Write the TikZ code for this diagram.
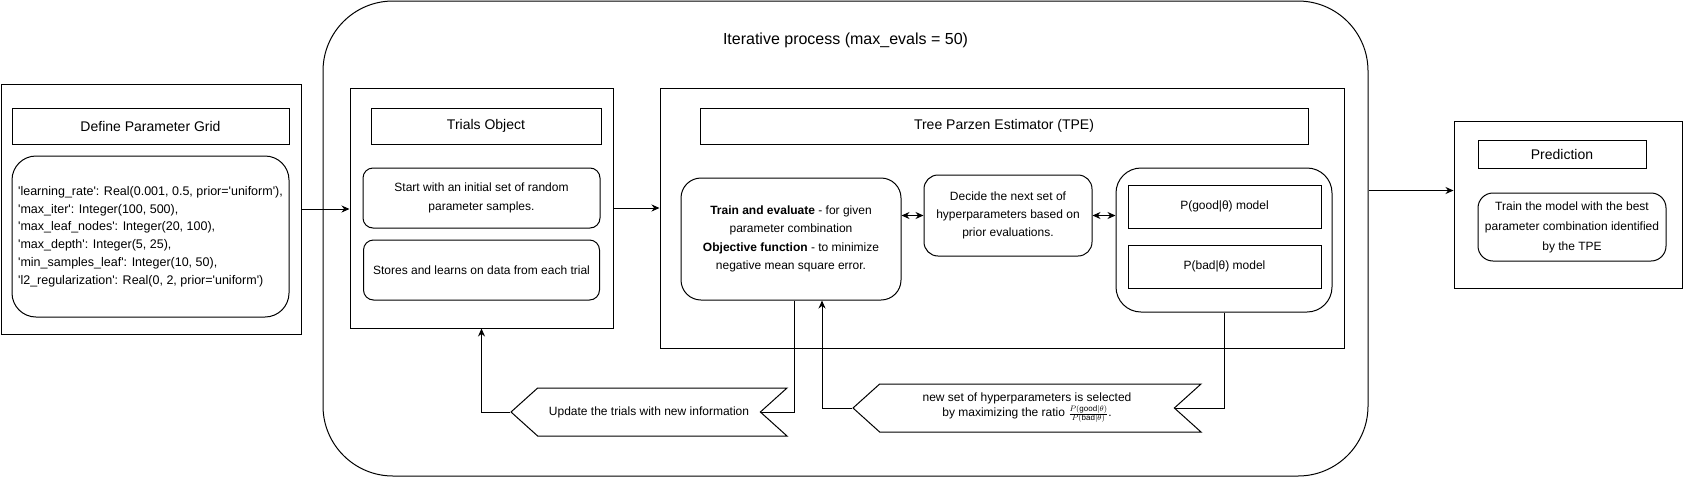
\documentclass[tikz,border=0pt]{standalone}
\usepackage{fontspec}
\setmainfont{Liberation Sans}
\usetikzlibrary{arrows.meta, shapes.symbols}
\newcommand{\sqt}{\textquotesingle}
\tikzstyle{panel} = [draw, line width=1pt, inner sep=0pt]
\tikzstyle{heading} = [draw, line width=1pt, font=\fontsize{14}{16}\selectfont]
\tikzstyle{stepbox} = [draw, line width=1pt, rounded corners=10pt, align=center, font=\fontsize{12}{19}\selectfont]
\tikzstyle{banner} = [draw, line width=1pt, signal, signal to=west, signal from=east, signal pointer angle=84, minimum height=48pt, inner sep=0pt, align=center, font=\fontsize{12}{15}\selectfont]
\tikzstyle{flow} = [line width=1pt, ->]
\tikzstyle{wire} = [line width=1pt]

\begin{document}
\begin{tikzpicture}[x=1pt, y=-1pt, >={Stealth[length=8pt,width=7pt]}]
  \useasboundingbox (0,0) rectangle (1683,477);
  \node (grid) [panel, minimum width=300pt, minimum height=250pt] at (151,209) {};
  \node (gridtitle) [heading, minimum width=277pt, minimum height=36pt] at (150.5,126) {Define Parameter Grid};
  \node (params) [stepbox, rounded corners=24pt, align=left, minimum width=277pt, minimum height=161pt, font=\fontsize{12.5}{17.8}\selectfont] at (150.5,236.5) {\sqt{}learning\_rate\sqt{}: Real(0.001, 0.5, prior=\sqt{}uniform\sqt{}),\\ \sqt{}max\_iter\sqt{}: Integer(100, 500),\\ \sqt{}max\_leaf\_nodes\sqt{}: Integer(20, 100),\\ \sqt{}max\_depth\sqt{}: Integer(5, 25),\\ \sqt{}min\_samples\_leaf\sqt{}: Integer(10, 50),\\ \sqt{}l2\_regularization\sqt{}: Real(0, 2, prior=\sqt{}uniform\sqt{})};

  \node (iter) [panel, rounded corners=70pt, minimum width=1045pt, minimum height=475pt] at (845.5,238.5) {};
  \node (itertitle) [font=\fontsize{16}{18}\selectfont] at (845.5,40) {Iterative process (max\_evals = 50)};

  \node (trials) [panel, minimum width=263pt, minimum height=240pt] at (481.5,208) {};
  \node (trialstitle) [heading, minimum width=230pt, minimum height=36pt] at (486,126) {Trials Object};
  \node (start) [stepbox, minimum width=237pt, minimum height=60pt] at (481.5,198) {Start with an initial set of random\\parameter samples.};
  \node (stores) [stepbox, minimum width=236pt, minimum height=60pt, below of=start, node distance=72pt] {Stores and learns on data from each trial};

  \node (tpe) [panel, minimum width=684pt, minimum height=260pt] at (1002,218) {};
  \node (tpetitle) [heading, minimum width=608pt, minimum height=36pt] at (1004,126) {Tree Parzen Estimator (TPE)};
  \node (train) [stepbox, rounded corners=20pt, minimum width=220pt, minimum height=122pt, font=\fontsize{12}{18.3}\selectfont] at (791,239) {\textbf{Train and evaluate} - for given\\parameter combination\\\textbf{Objective function} - to minimize\\negative mean square error.};
  \node (decide) [stepbox, rounded corners=14pt, minimum width=168pt, minimum height=81pt, font=\fontsize{12}{18}\selectfont] at (1008,215.5) {Decide the next set of\\hyperparameters based on\\prior evaluations.};
  \node (models) [panel, rounded corners=25pt, minimum width=216pt, minimum height=144pt] at (1224,240) {};
  \node (pgood) [panel, font=\fontsize{12}{14}\selectfont, minimum width=193pt, minimum height=43pt] at (1224.5,206.5) {P(good|θ) model};
  \node (pbad) [panel, font=\fontsize{12}{14}\selectfont, minimum width=193pt, minimum height=43pt, below of=pgood, node distance=60pt] {P(bad|θ) model};

  \node (pred) [panel, minimum width=228pt, minimum height=167pt] at (1568,204.5) {};
  \node (predtitle) [heading, minimum width=168pt, minimum height=28pt] at (1562,154) {Prediction};
  \node (predtrain) [stepbox, rounded corners=15pt, minimum width=188pt, minimum height=68pt, font=\fontsize{12}{20}\selectfont] at (1572,227) {Train the model with the best\\parameter combination identified\\by the TPE};

  \node (update) [banner, minimum width=276pt] at (649,412) {Update the trials with new information};
  \node (select) [banner, minimum width=348pt] at (1027,408) {new set of hyperparameters is selected\\by maximizing the ratio $\frac{P(\mathrm{good}\mid\theta)}{P(\mathrm{bad}\mid\theta)}$.};

  \draw[flow] (grid.east) -- (grid.east -| trials.west);
  \draw[flow] (trials.east) -- (trials.east -| tpe.west);
  \draw[flow, <->] (decide.west -| train.east) -- (decide.west);
  \draw[flow, <->] (decide.east) -- (decide.east -| models.west);
  \draw[flow] ([yshift=48pt]iter.east) -- ([yshift=48pt]iter.east -| pred.west);
  \draw[wire] ([xshift=3pt]train.south) |- (update.east);
  \draw[flow] (update.west) -| (trials.south);
  \draw[wire] (models.south) |- (select.east);
  \draw[flow] (select.west) -| ([xshift=31pt]train.south);
\end{tikzpicture}
\end{document}
